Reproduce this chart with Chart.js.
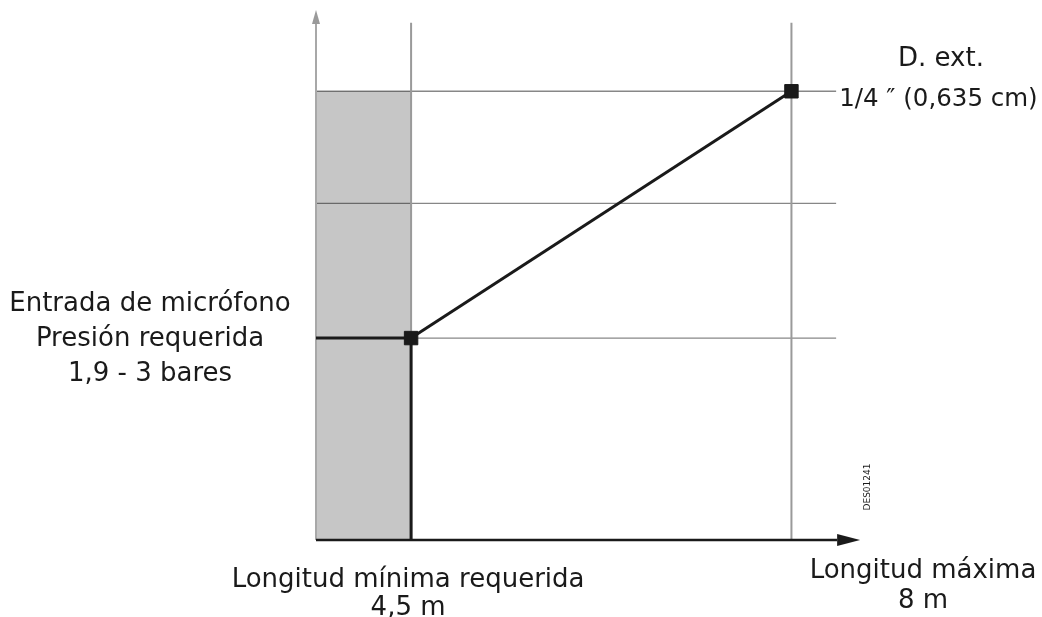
<!DOCTYPE html>
<html>
<head>
<meta charset="utf-8">
<script src="https://cdn.jsdelivr.net/npm/chart.js@4"></script>
<style>
    html, body { margin: 0; padding: 0; background: #ffffff; }
    #wrap { width: 1042px; height: 617px; }
</style>
</head>
<body>
<div id="wrap"><canvas id="chart"></canvas></div>
<script>
// Schematic positions (not to scale, as in the original drawing)
const lengthPositions = [1, 5];          // 4,5 m and 8 m
const lengthLabels = ['Longitud mínima requerida\n4,5 m', 'Longitud máxima\n8 m'];
const diameterLevels = [1.8, 3, 4];      // horizontal reference lines
const curveX = [1, 5];
const curveY = [1.8, 4];
const pressureLabel = ['Entrada de micrófono', 'Presión requerida', '1,9 - 3 bares'];
const diameterLabel = ['D. ext.', '1/4 ″ (0,635 cm)'];
const drawingCode = 'DES01241';

// Axis extents
const xMax = 5.7;
const yMax = 4.72;
const gridRight = 5.47;
const gridTop = 4.61;
const xAxisEnd = 5.48;
const yAxisEnd = 4.6;

const FONT = '"DejaVu Sans", sans-serif';

// Arrow heads as point images
function makeArrow(len, half, color, dir) {
    const c = document.createElement('canvas');
    if (dir === 'right') {
        c.width = len * 2; c.height = half * 2 + 2;
        const g = c.getContext('2d');
        g.fillStyle = color;
        g.beginPath();
        g.moveTo(len, 1);
        g.lineTo(len * 2, half + 1);
        g.lineTo(len, half * 2 + 1);
        g.closePath();
        g.fill();
    } else {
        c.width = half * 2 + 2; c.height = len * 2;
        const g = c.getContext('2d');
        g.fillStyle = color;
        g.beginPath();
        g.moveTo(1, len);
        g.lineTo(half + 1, 0);
        g.lineTo(half * 2 + 1, len);
        g.closePath();
        g.fill();
    }
    return c;
}
const arrowRight = makeArrow(23, 6, '#1a1a1a', 'right');
const arrowUp = makeArrow(14, 4, '#9a9a9a', 'up');

// higher "order" is drawn first (underneath)
function seg(points, color, width, order, extra) {
    return Object.assign({
        data: points,
        borderColor: color,
        borderWidth: width,
        pointRadius: 0,
        fill: false,
        clip: false,
        tension: 0,
        order: order
    }, extra || {});
}

const datasets = [];
const gridColor = 'rgba(0,0,0,0.47)';

// Shaded area up to minimum length
datasets.push(seg([{ x: 0, y: diameterLevels[2] }, { x: lengthPositions[0], y: diameterLevels[2] }], 'rgba(0,0,0,0)', 0, 9, {
    fill: 'origin',
    backgroundColor: '#c6c6c6'
}));

// Horizontal reference lines
datasets.push(seg([{ x: lengthPositions[0], y: diameterLevels[0] }, { x: gridRight, y: diameterLevels[0] }], gridColor, 1.3, 6));
datasets.push(seg([{ x: 0, y: diameterLevels[1] }, { x: gridRight, y: diameterLevels[1] }], gridColor, 1.3, 6));
datasets.push(seg([{ x: 0, y: diameterLevels[2] }, { x: gridRight, y: diameterLevels[2] }], gridColor, 1.3, 6));

// Vertical reference lines
lengthPositions.forEach(p => {
    datasets.push(seg([{ x: p, y: 0 }, { x: p, y: gridTop }], '#9a9a9a', 2, 5));
});

// Y axis with arrow
datasets.push(seg([{ x: 0, y: 0 }, { x: 0, y: yAxisEnd }], '#a8a8a8', 2, 4, {
    pointRadius: [0, 1],
    pointStyle: arrowUp
}));

// X axis with arrow
datasets.push(seg([{ x: 0, y: 0 }, { x: xAxisEnd, y: 0 }], '#1a1a1a', 2.5, 3, {
    pointRadius: [0, 1],
    pointStyle: arrowRight
}));

// Required pressure / minimum length step
datasets.push(seg([
    { x: 0, y: curveY[0] },
    { x: curveX[0], y: curveY[0] },
    { x: curveX[0], y: 0 }
], '#1a1a1a', 3, 2));

// Curve with square markers
datasets.push(seg([
    { x: curveX[0], y: curveY[0] },
    { x: curveX[1], y: curveY[1] }
], '#1a1a1a', 3, 1, {
    pointRadius: 9.5,
    pointStyle: 'rect',
    pointBackgroundColor: '#1a1a1a',
    pointBorderColor: '#1a1a1a',
    pointBorderWidth: 1
}));

// Text labels placed from the scales
const labelPlugin = {
    id: 'labels',
    afterDatasetsDraw(chart) {
        const ctx = chart.ctx;
        const xs = chart.scales.x;
        const ys = chart.scales.y;
        ctx.save();
        ctx.fillStyle = '#1a1a1a';
        ctx.font = '26px ' + FONT;
        ctx.textAlign = 'center';
        ctx.textBaseline = 'alphabetic';

        // Left block
        const yLow = ys.getPixelForValue(curveY[0]);
        pressureLabel.forEach((t, i) => {
            ctx.fillText(t, xs.left - 166, yLow - 27 + i * 35);
        });

        // Right block
        const yTop = ys.getPixelForValue(curveY[1]);
        ctx.fillText(diameterLabel[0], xs.right + 83, yTop - 25);
        ctx.textAlign = 'left';
        ctx.font = '24.5px ' + FONT;
        ctx.fillText(diameterLabel[1], xs.getPixelForValue(gridRight) + 3, yTop + 15);

        // Bottom labels
        ctx.font = '26px ' + FONT;
        ctx.textAlign = 'center';
        const bottom = ys.getPixelForValue(0);
        const minLines = lengthLabels[0].split('\n');
        const xMin = xs.getPixelForValue(lengthPositions[0]);
        ctx.fillText(minLines[0], xMin - 3, bottom + 47);
        ctx.fillText(minLines[1], xMin - 3, bottom + 75);
        const maxLines = lengthLabels[1].split('\n');
        ctx.fillText(maxLines[0], xs.right + 65, bottom + 38);
        ctx.fillText(maxLines[1], xs.right + 65, bottom + 68);

        // Drawing code
        ctx.font = '9px ' + FONT;
        ctx.translate(xs.right + 12, bottom - 53);
        ctx.rotate(-Math.PI / 2);
        ctx.fillText(drawingCode, 0, 0);
        ctx.restore();
    }
};

new Chart(document.getElementById('chart'), {
    type: 'line',
    data: { datasets: datasets },
    options: {
        responsive: true,
        maintainAspectRatio: false,
        animation: false,
        layout: { padding: { left: 316, right: 184, top: 5, bottom: 77 } },
        plugins: {
            legend: { display: false },
            tooltip: { enabled: false }
        },
        scales: {
            x: { type: 'linear', min: 0, max: xMax, display: false },
            y: { type: 'linear', min: 0, max: yMax, display: false }
        }
    },
    plugins: [labelPlugin]
});
</script>
</body>
</html>
